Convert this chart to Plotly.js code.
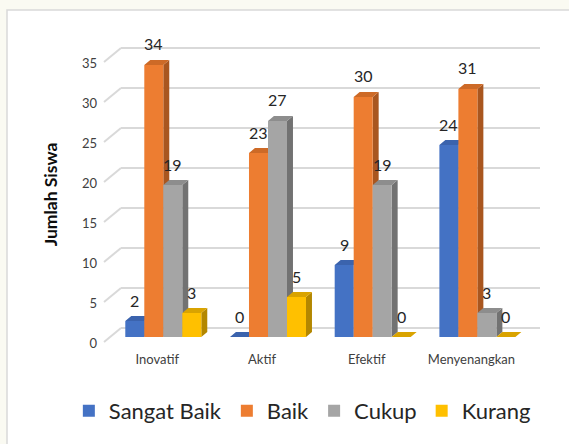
<!DOCTYPE html>
<html>
<head>
<meta charset="utf-8">
<script src="https://cdn.plot.ly/plotly-3.0.1.min.js"></script>
<style>html,body{margin:0;padding:0;background:#fafaf2;}#chart{width:569px;height:444px;}</style>
</head>
<body>
<div id="chart"></div>
<script>
// ---- data ----
const categories = ['Inovatif', 'Aktif', 'Efektif', 'Menyenangkan'];
const seriesNames = ['Sangat Baik', 'Baik', 'Cukup', 'Kurang'];
const sangatBaik = [2, 0, 9, 24];
const baik = [34, 23, 30, 31];
const cukup = [19, 27, 19, 3];
const kurang = [3, 5, 0, 0];
const yTickVals = [0, 5, 10, 15, 20, 25, 30, 35];

// ---- styling ----
const colors = ['#4472c4', '#ed7d31', '#a5a5a5', '#ffc000'];
const sideColors = ['#2f5190', '#a9561f', '#727272', '#b38700'];
const topColors = ['#3b63ad', '#cd6a27', '#8d8d8d', '#d9a300'];
const FONT = 'Lato, "Open Sans", sans-serif';

const allSeries = [sangatBaik, baik, cukup, kurang];
const catIdx = categories.map((c, i) => i);
const W = 0.1815;        // bar width (category units)
const DX = 0.057;        // depth x (category units)
const DY = 0.625;        // depth y (value units)

const traces = [];
// side + top faces (drawn beneath front faces)
allSeries.forEach((vals, s) => {
  const sx = [], sy = [], tx = [], ty = [];
  vals.forEach((v, k) => {
    const L = catIdx[k] + (-2 + s) * W;
    const R = L + W;
    sx.push(R, R + DX, R + DX, R, R, null);
    sy.push(0, DY, v + DY, v, 0, null);
    tx.push(L, R, R + DX, L + DX, L, null);
    ty.push(v, v, v + DY, v + DY, v, null);
  });
  traces.push({type: 'scatter', mode: 'lines', x: sx, y: sy, fill: 'toself', fillcolor: sideColors[s],
    line: {width: 0, color: sideColors[s]}, showlegend: false, hoverinfo: 'skip', xaxis: 'x', yaxis: 'y'});
  traces.push({type: 'scatter', mode: 'lines', x: tx, y: ty, fill: 'toself', fillcolor: topColors[s],
    line: {width: 0, color: topColors[s]}, showlegend: false, hoverinfo: 'skip', xaxis: 'x', yaxis: 'y'});
});
// dummy trace for the back-wall grid axis
traces.push({type: 'scatter', x: [], y: [], xaxis: 'x', yaxis: 'y2', showlegend: false, hoverinfo: 'skip'});
// front faces
allSeries.forEach((vals, s) => {
  traces.push({type: 'bar', name: seriesNames[s], x: catIdx, y: vals, width: W, offset: (-2 + s) * W,
    marker: {color: colors[s], line: {width: 0}}, xaxis: 'x', yaxis: 'y3', hoverinfo: 'skip'});
});

// data labels
const annotations = [];
allSeries.forEach((vals, s) => {
  vals.forEach((v, k) => {
    annotations.push({x: catIdx[k] + (-1.5 + s) * W, y: v, xref: 'x', yref: 'y', yshift: 21,
      text: String(v), showarrow: false, font: {family: FONT, size: 16, color: '#262626'}});
  });
});

// frame panel + diagonal edge lines at the left of the back-wall grid
const XDOM = [121 / 569, 540 / 569];
const XR = [-0.404, 3.598];
const shapes = [{type: 'rect', xref: 'paper', yref: 'paper', x0: 7 / 569, x1: 1.02, y0: -0.02, y1: 1 - 10 / 444,
  fillcolor: '#ffffff', line: {color: '#d9d9d9', width: 1.5}, layer: 'below'}];
yTickVals.forEach(t => {
  shapes.push({type: 'line', xref: 'paper', yref: 'y2', xsizemode: 'pixel', ysizemode: 'pixel',
    xanchor: XDOM[0], yanchor: t, x0: -17, x1: 0, y0: -14, y1: 0,
    line: {color: '#d9d9d9', width: 2}, layer: 'below'});
});

const layout = {
  width: 569, height: 444,
  margin: {l: 0, r: 0, t: 0, b: 0},
  paper_bgcolor: '#fafaf2', plot_bgcolor: 'rgba(0,0,0,0)',
  barmode: 'overlay',
  showlegend: true,
  legend: {orientation: 'h', x: 0.121, y: 1 - 411 / 444, xanchor: 'left', yanchor: 'middle',
    font: {family: FONT, size: 22, color: '#262626'}, bgcolor: 'rgba(0,0,0,0)', traceorder: 'normal'},
  xaxis: {domain: XDOM, range: XR, tickvals: catIdx, ticktext: categories,
    showgrid: false, zeroline: false, showline: false, ticks: '', ticklabelshift: -6, ticklabelstandoff: 6,
    tickfont: {family: FONT, size: 13, color: '#404040'}, fixedrange: true},
  yaxis: {domain: [1 - 344 / 444, 1 - 45 / 444], range: [-0.875, 36.5], tickvals: yTickVals,
    showgrid: false, zeroline: false, showline: false, ticks: '', ticklabelshift: 6, ticklabelstandoff: 23,
    tickfont: {family: FONT, size: 13, color: '#404040'},
    title: {text: 'Jumlah Siswa', font: {family: FONT, size: 17.5, color: '#0d0d0d', weight: 'bold'}, standoff: 19}},
  yaxis2: {overlaying: 'y', anchor: 'x', range: [-2.0, 35.375], tickvals: yTickVals, showticklabels: false,
    showgrid: true, gridcolor: '#d9d9d9', gridwidth: 2, zeroline: false, showline: false, ticks: ''},
  yaxis3: {overlaying: 'y', anchor: 'x', range: [-0.875, 36.5], showticklabels: false, showgrid: false,
    zeroline: false, showline: false, ticks: ''},
  shapes: shapes,
  annotations: annotations
};

Plotly.newPlot('chart', traces, layout, {displayModeBar: false, staticPlot: true});
</script>
</body>
</html>
